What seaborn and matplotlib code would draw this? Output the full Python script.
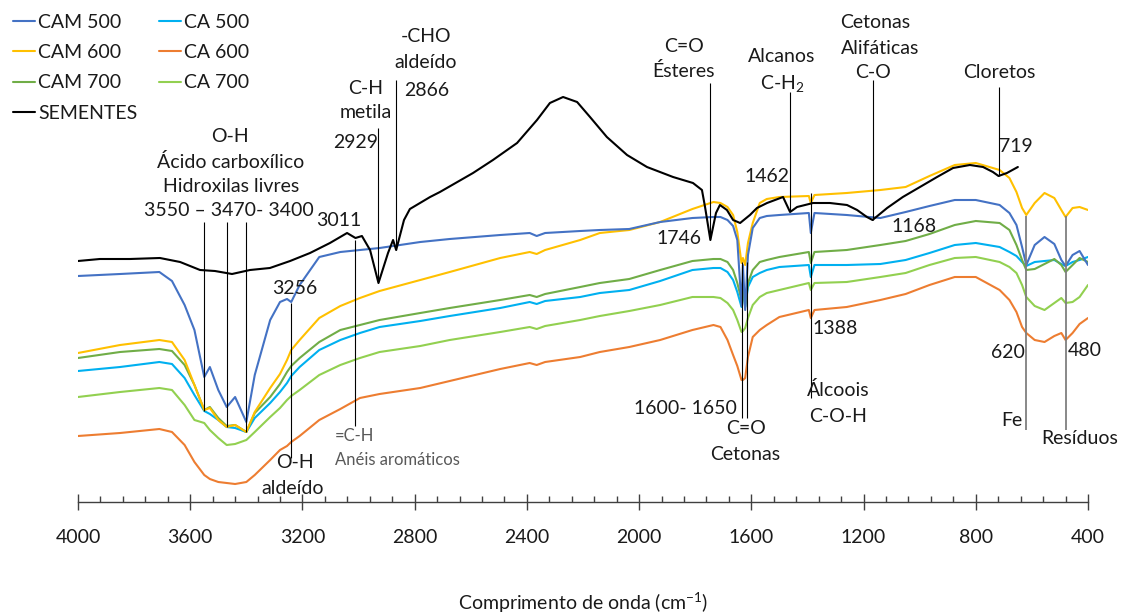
import matplotlib
matplotlib.use("Agg")
import matplotlib.pyplot as plt
from matplotlib.lines import Line2D
import pandas as pd
import seaborn as sns

# Wavenumber grid (cm-1) shared by the six carbon spectra
wavenumber = [4000, 3850, 3710, 3665, 3620, 3585, 3550, 3530, 3500, 3470,
              3440, 3400, 3370, 3315, 3280, 3255, 3240, 3210, 3140, 3065,
              2995, 2925, 2780, 2675, 2495, 2390, 2365, 2335, 2210, 2140,
              2035, 1925, 1810, 1735, 1710, 1685, 1665, 1650, 1635, 1630,
              1622, 1612, 1595, 1570, 1545, 1500, 1395, 1388, 1375, 1260,
              1140, 1050, 965, 875, 800, 715, 680, 655, 635, 620,
              590, 555, 520, 495, 480, 455, 430, 400]

# Transmittance (arbitrary units, spectra stacked with offsets)
cam_500 = [226, 228, 230, 221, 197, 172, 125, 135, 112, 95,
           105, 80, 127, 182, 200, 203, 200, 217, 245, 250,
           252, 254, 260, 263, 267, 269, 266, 269, 271, 272,
           273, 280, 284, 285, 285, 282, 276, 262, 196, 237,
           192, 247, 274, 284, 286, 287, 289, 269, 289, 287,
           284, 290, 296, 302, 302, 297, 289, 277, 255, 237,
           257, 265, 258, 242, 236, 247, 251, 237]
cam_600 = [149, 157, 162, 160, 142, 117, 92, 94, 82, 75,
           77, 70, 90, 114, 128, 142, 152, 162, 184, 196,
           204, 211, 222, 230, 244, 250, 248, 252, 262, 269,
           272, 280, 293, 300, 299, 295, 287, 270, 239, 244,
           237, 259, 279, 299, 303, 305, 306, 299, 307, 309,
           312, 315, 326, 337, 339, 332, 324, 310, 294, 287,
           299, 309, 304, 292, 285, 294, 295, 292]
cam_700 = [144, 150, 153, 151, 137, 117, 92, 95, 84, 76,
           77, 70, 89, 105, 118, 130, 136, 144, 160, 172,
           177, 182, 189, 194, 202, 207, 205, 208, 215, 219,
           223, 232, 241, 243, 243, 240, 232, 219, 202, 220,
           195, 219, 232, 240, 242, 245, 250, 239, 250, 252,
           257, 261, 268, 277, 281, 279, 272, 257, 242, 232,
           233, 238, 243, 237, 230, 237, 244, 240]
ca_500 = [131, 135, 140, 138, 124, 107, 91, 88, 82, 75,
          74, 70, 84, 99, 110, 119, 126, 135, 152, 162,
          169, 175, 181, 186, 194, 200, 198, 201, 205, 209,
          212, 221, 232, 234, 234, 230, 222, 210, 195, 212,
          195, 215, 225, 229, 232, 235, 237, 225, 237, 237,
          238, 242, 249, 257, 259, 255, 250, 246, 240, 236,
          240, 241, 242, 238, 236, 240, 242, 245]
ca_600 = [66, 69, 73, 70, 57, 40, 27, 23, 20, 19,
          18, 20, 27, 42, 52, 56, 60, 66, 82, 93,
          104, 108, 114, 121, 133, 139, 137, 140, 145, 150,
          155, 162, 172, 177, 175, 162, 147, 136, 122, 122,
          124, 145, 165, 172, 177, 185, 192, 184, 192, 195,
          202, 208, 217, 225, 225, 212, 202, 190, 175, 169,
          162, 160, 166, 169, 162, 169, 178, 184]
ca_700 = [105, 110, 114, 112, 97, 82, 79, 72, 64, 57,
          58, 62, 70, 85, 94, 102, 106, 112, 127, 137,
          144, 150, 156, 162, 170, 175, 173, 176, 182, 186,
          191, 197, 205, 205, 204, 199, 192, 182, 170, 171,
          174, 184, 197, 205, 209, 212, 219, 212, 219, 220,
          225, 229, 237, 244, 245, 240, 235, 229, 217, 205,
          196, 192, 199, 204, 199, 200, 205, 217]

# Raw seeds spectrum (recorded down to 650 cm-1)
seeds_wavenumber = [4000, 3922, 3815, 3708, 3636, 3565, 3512, 3451, 3387, 3316,
                    3244, 3173, 3102, 3041, 3011, 2988, 2959, 2929, 2895, 2877,
                    2866, 2838, 2817, 2745, 2710, 2592, 2521, 2435, 2364, 2318,
                    2271, 2221, 2175, 2115, 2043, 1972, 1879, 1808, 1776, 1765,
                    1746, 1726, 1712, 1687, 1665, 1640, 1605, 1580, 1544, 1487,
                    1462, 1437, 1380, 1320, 1259, 1223, 1188, 1168, 1116, 1060,
                    999, 938, 881, 821, 774, 739, 719, 689, 650]
seeds = [241, 243, 243, 244, 240, 232, 231, 228, 232, 234,
         241, 249, 259, 269, 264, 266, 252, 219, 249, 262,
         252, 282, 293, 305, 310, 329, 342, 359, 382, 399,
         405, 400, 385, 365, 347, 335, 325, 319, 312, 295,
         262, 289, 297, 292, 282, 279, 287, 294, 299, 305,
         290, 295, 299, 299, 297, 292, 285, 282, 294, 305,
         315, 325, 334, 337, 335, 330, 326, 329, 335]

series_names = ["CAM 500", "CA 500", "CAM 600", "CA 600", "CAM 700", "CA 700"]
series_values = [cam_500, ca_500, cam_600, ca_600, cam_700, ca_700]
palette = {"CAM 500": "#4472C4", "CA 500": "#00B0F0",
           "CAM 600": "#FFC000", "CA 600": "#ED7D31",
           "CAM 700": "#70AD47", "CA 700": "#92D050"}
seeds_name = "SEMENTES"

sns.set_theme(style="white")
plt.rcParams["font.family"] = ["Lato", "DejaVu Sans"]
plt.rcParams["mathtext.default"] = "regular"

df = pd.concat(
    [pd.DataFrame({"wn": wavenumber, "T": vals, "amostra": name})
     for name, vals in zip(series_names, series_values)],
    ignore_index=True)

fig = plt.figure(figsize=(11.21, 6.14), dpi=100)
fig.patch.set_facecolor("white")
ax = fig.add_axes([78 / 1121, 112 / 614, 1010 / 1121, 502 / 614])

draw_order = ["CA 600", "CA 700", "CA 500", "CAM 700", "CAM 600", "CAM 500"]
sns.lineplot(data=df, x="wn", y="T", hue="amostra", hue_order=draw_order,
             palette=palette, estimator=None, sort=False, lw=1.5,
             legend=False, ax=ax)
sns.lineplot(x=seeds_wavenumber, y=seeds, color="black", lw=1.5,
             estimator=None, sort=False, ax=ax)

ax.set_xlim(4000, 400)
ax.set_ylim(0, 502)
ax.set_yticks([])
ax.set_ylabel("")
for side in ("left", "top", "right"):
    ax.spines[side].set_visible(False)
ax.spines["bottom"].set_color("#404040")
ax.spines["bottom"].set_linewidth(1.0)

ax.set_xticks(range(4000, 399, -400))
ax.set_xticks(range(4000, 399, -80), minor=True)
ax.tick_params(axis="x", which="major", bottom=True, direction="inout",
               length=11, width=1, color="#404040", pad=14, labelsize=14,
               labelcolor="#1a1a1a")
ax.tick_params(axis="x", which="minor", bottom=True, direction="in",
               length=4, width=1, color="#404040")
ax.set_xlabel("Comprimento de onda (cm$^{-1}$)", fontsize=14,
              color="#1a1a1a", labelpad=32)

# Band assignment guide lines
black_guides = [(3550, 280, 91), (3470, 280, 75), (3400, 280, 70),
                (3240, 199, 44), (3011, 262, 76), (2929, 374, 219),
                (2866, 422, 252), (1746, 419, 262), (1462, 410, 291),
                (1168, 422, 282), (719, 415, 326), (1634, 240, 84),
                (1617, 240, 84), (1388, 309, 104)]
for x, top, bottom in black_guides:
    ax.vlines(x, bottom, top, color="black", lw=0.8)
for x in (620, 480):
    ax.vlines(x, 72, 286, color="#7f7f7f", lw=1.3)

labels = [
    ("O-H", 3458, 365), ("Ácido carboxílico", 3455, 340),
    ("Hidroxilas livres", 3455, 315), ("3550 – 3470- 3400", 3462, 291),
    ("3011", 3070, 282), ("3256", 3227, 213),
    ("O-H", 3227, 39), ("aldeído", 3234, 14),
    ("C-H", 2974, 414), ("metila", 2974, 389), ("2929", 3009, 360),
    ("-CHO", 2760, 465), ("aldeído", 2760, 440), ("2866", 2756, 412),
    ("C=O", 1840, 456), ("Ésteres", 1840, 431), ("1746", 1858, 263),
    ("Alcanos", 1491, 445), ("C-H$_2$", 1491, 419), ("1462", 1544, 326),
    ("Cetonas", 1159, 480), ("Alifáticas", 1141, 454), ("C-O", 1166, 430),
    ("1168", 1020, 275),
    ("Cloretos", 717, 429), ("719", 657, 355),
    ("620", 685, 149), ("Fe", 671, 82),
    ("480", 411, 152), ("Resíduos", 429, 64),
    ("1388", 1302, 174), ("Álcoois", 1291, 112), ("C-O-H", 1291, 86),
    ("1600- 1650", 1836, 94), ("C=O", 1619, 74), ("Cetonas", 1623, 47),
]
for text, x, y in labels:
    ax.text(x, y, text, ha="center", va="center", fontsize=14,
            color="#1a1a1a", clip_on=False)

ax.text(3084, 66, "=C-H", ha="left", va="center", fontsize=12,
        color="#595959")
ax.text(3084, 42, "Anéis aromáticos", ha="left", va="center", fontsize=12,
        color="#595959")

legend_order = ["CAM 500", "CAM 600", "CAM 700", seeds_name,
                "CA 500", "CA 600", "CA 700"]
handles = [Line2D([], [], color=palette.get(n, "black"), lw=1.5)
           for n in legend_order]
fig.legend(handles, legend_order, loc="upper left",
           bbox_to_anchor=(13 / 1121, 1 - 14 / 614),
           bbox_transform=fig.transFigure, ncol=2, frameon=False,
           fontsize=14, handlelength=1.15, handletextpad=0.15,
           columnspacing=1.1, labelspacing=0.68, borderpad=0,
           borderaxespad=0, labelcolor="#1a1a1a")

fig.savefig("out.png", dpi=100, facecolor="white")
